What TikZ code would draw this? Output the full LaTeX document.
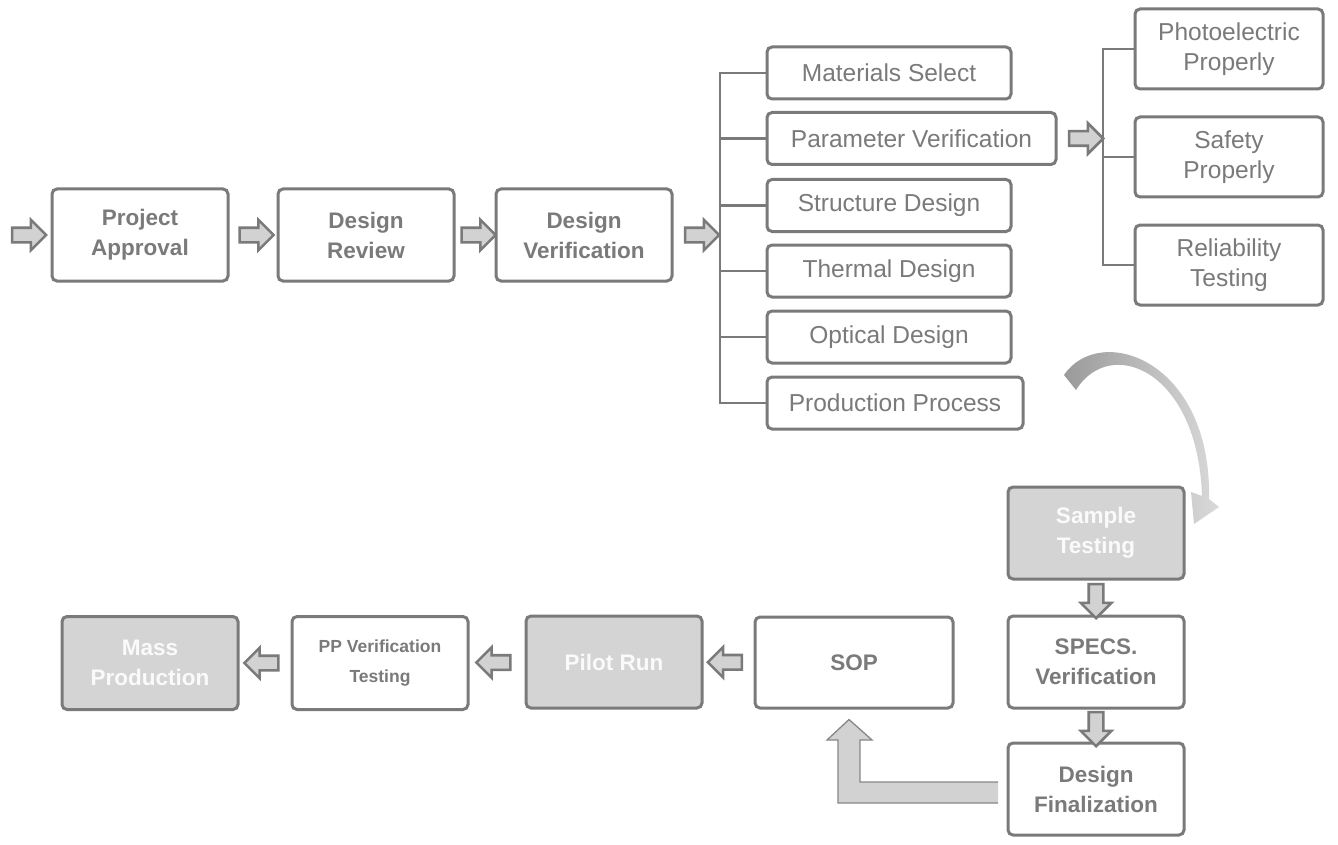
\documentclass[tikz,border=0pt]{standalone}
\usepackage{fontspec}
\setmainfont{Liberation Sans}
\usetikzlibrary{shapes.arrows,calc}
\definecolor{bordergray}{HTML}{7A7A7A}
\definecolor{txtgray}{HTML}{7A7A7A}
\definecolor{boxfill}{HTML}{D4D4D4}
\definecolor{arrowfill}{HTML}{D2D2D2}
\definecolor{curvA}{HTML}{9A9A9A}
\definecolor{curvB}{HTML}{DADADA}
\begin{document}
\begin{tikzpicture}[x=1pt,y=-1pt,
  box/.style={draw=bordergray, line width=3pt, rounded corners=5pt, fill=white, align=center, text=txtgray, inner sep=0pt},
  main/.style={box, minimum width=176pt, minimum height=92pt, font=\bfseries\fontsize{22.5}{30}\selectfont},
  graybox/.style={main, fill=boxfill, text=white!96!gray},
  sub/.style={box, minimum height=52pt, font=\fontsize{24.5}{30}\selectfont},
  side/.style={box, minimum width=188pt, minimum height=80pt, font=\fontsize{24.5}{30}\selectfont},
  barrow/.style={single arrow, draw=bordergray, fill=arrowfill, line width=2.6pt, minimum height=34pt, inner sep=6pt, single arrow head extend=8pt, single arrow tip angle=90},
  bline/.style={draw=bordergray, line width=2.5pt}
]
\useasboundingbox (0,0) rectangle (1338,845);

% top row
\node[main] (pa) at (140,235) {Project\\Approval};
\node[main] (dr) at (366,235) {Design\\Review};
\node[main] (dv) at (584,235) {Design\\Verification};

\node[barrow] (a0) at ([xshift=-25pt]pa.west) {};
\node[barrow] (a1) at ($(pa.east)!0.5!(dr.west)$) {};
\node[barrow] (a2) at ($(dr.east)!0.5!(dv.west)$) {};
\node[barrow] (a3) at ([xshift=25pt]dv.east) {};

% design verification branches
\node[sub, minimum width=244pt] (ms) at (889,73) {Materials Select};
\node[sub, minimum width=289pt] (pv) at (911.5,138.5) {Parameter Verification};
\node[sub, minimum width=244pt] (sd) at (889,205.5) {Structure Design};
\node[sub, minimum width=244pt] (td) at (889,271) {Thermal Design};
\node[sub, minimum width=244pt] (od) at (889,337) {Optical Design};
\node[sub, minimum width=256pt] (pp) at (895,403) {Production Process};

\coordinate (b1) at (720,0);
\draw[bline] (ms.west) -- (ms.west -| b1) -- (pp.west -| b1) -- (pp.west);
\foreach \n in {pv,sd,td,od} \draw[bline] (\n.west) -- (\n.west -| b1);

% parameter verification branches
\node[barrow] (a4) at ([xshift=25pt]pv.east) {};
\node[side] (ph) at (1229,49) {Photoelectric\\Properly};
\node[side] (sa) at (1229,157) {Safety\\Properly};
\node[side] (re) at (1229,265) {Reliability\\Testing};

\coordinate (b2) at (1103,0);
\draw[bline] (ph.west) -- (ph.west -| b2) -- (re.west -| b2) -- (re.west);
\draw[bline] (sa.west) -- (sa.west -| b2);

% curved arrow
\shade[left color=curvA, right color=curvB]
  (1064,375) .. controls (1100,322) and (1212,360) .. (1209,499)
  -- (1219,507) -- (1194,524) -- (1191,492) -- (1202,496)
  .. controls (1198,370) and (1110,335) .. (1076,390) -- cycle;

% lower right column
\node[graybox] (st) at (1096,533) {Sample\\Testing};
\node[main] (sv) at (1096,662) {SPECS.\\Verification};
\node[main] (df) at (1096,789) {Design\\Finalization};
\node[barrow, shape border rotate=270] (a5) at ($(st.south)!0.5!(sv.north)$) {};
\node[barrow, shape border rotate=270] (a6) at ($(sv.south)!0.5!(df.north)$) {};

% bottom row
\node[main, minimum width=198pt, minimum height=91pt] (sop) at (854,662.5) {SOP};
\node[graybox] (pr) at (614,662) {Pilot Run};
\node[main, minimum height=93pt, font=\bfseries\fontsize{17.5}{30}\selectfont] (ppv) at (380,663) {PP Verification\\Testing};
\node[graybox, minimum height=93pt] (mp) at (150,663) {Mass\\Production};

\node[barrow, shape border rotate=180] (a7) at ($(sop.west)!0.5!(pr.east)$) {};
\node[barrow, shape border rotate=180] (a8) at ($(pr.west)!0.5!(ppv.east)$) {};
\node[barrow, shape border rotate=180] (a9) at ($(ppv.west)!0.5!(mp.east)$) {};

% L-shaped arrow from Design Finalization up to SOP
\coordinate (ltip) at ([xshift=-5pt,yshift=-10pt]sop.south);
\fill[arrowfill] (998,782) -- (860,782) -- (860,740) -- (872,740) -- (ltip) -- (827,740) -- (838,740) -- (838,803) -- (998,803) -- cycle;
\draw[draw=bordergray!90, line width=1.3pt, line join=miter] (998,782) -- (860,782) -- (860,740) -- (872,740) -- (ltip) -- (827,740) -- (838,740) -- (838,803) -- (998,803);
\end{tikzpicture}
\end{document}
